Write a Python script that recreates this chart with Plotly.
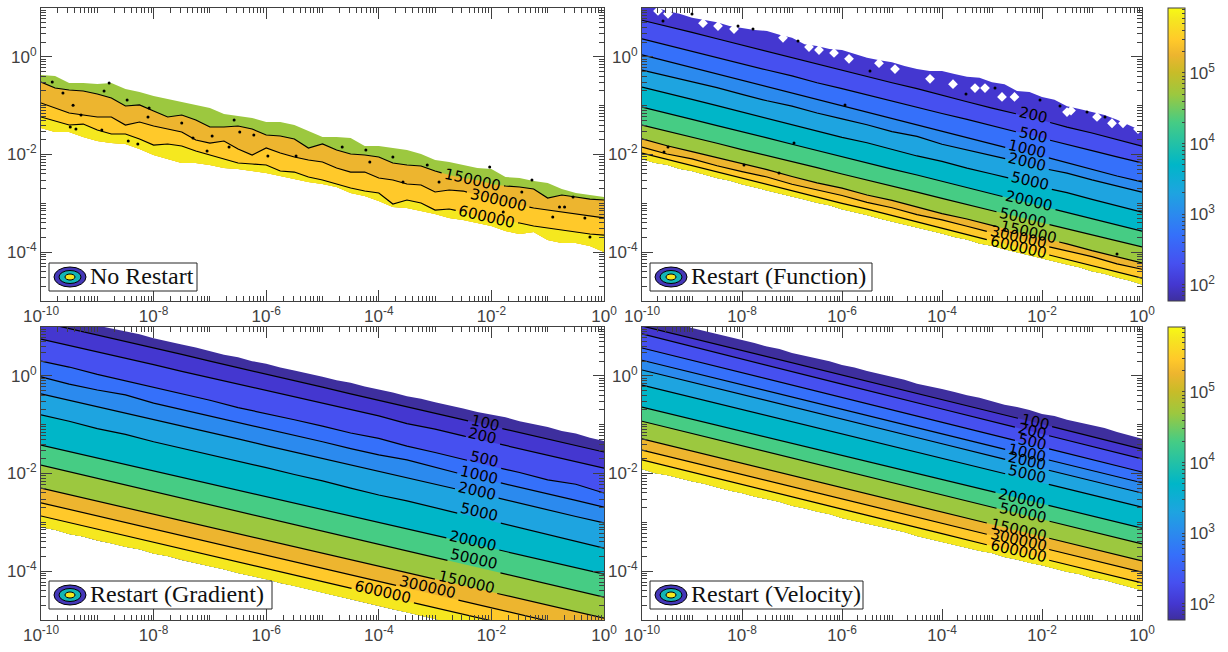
import numpy as np
import plotly.graph_objects as go

# ---- shared values -------------------------------------------------------
LEVELS = [100, 200, 500, 1000, 2000, 5000, 20000, 50000, 150000, 300000, 600000]
BAND_COLORS = ["#3E2F9E", "#4437D0", "#4650F0", "#3570FA", "#2B8AEE", "#1EA4E0", "#00B6C8",
               "#46CC84", "#9CC83F", "#EDB52F", "#FFC92A", "#F5E81F"]
CB_STOPS = [0, .055, .128, .224, .296, .369, .465, .61, .705, .78, .84, .89, .965, 1]
CB_COLORS = ["#3E2F9E", "#4437D0", "#4650F0", "#3570FA", "#2B8AEE", "#1EA4E0", "#00B6C8",
             "#46CC84", "#9CC83F", "#C8BC28", "#EDB52F", "#FFC92A", "#F5E81F", "#F8FA14"]
CB_RANGE = [1.77, 5.92]
PANEL_NAMES = ["No Restart", "Restart (Function)", "Restart (Gradient)", "Restart (Velocity)"]

# ---- No Restart: log10(y) along the x range ------------------------------
p1_top = [-.372,-.393,-.536,-.536,-.556,-.536,-.659,-.72,-.802,-.864,-.925,-.986,-1.048,-1.171,-1.212,-1.253,-1.335,-1.335,-1.396,-1.519,-1.642,-1.642,-1.662,-1.826,-1.826,-1.867,-1.908,-1.99,-2.113,-2.154,-2.215,-2.277,-2.297,-2.461,-2.481,-2.543,-2.584,-2.707,-2.789,-2.83,-2.871]
p1_150000 = [-.515,-.638,-.679,-.70,-.761,-.843,-1.007,-.986,-1.109,-1.232,-1.191,-1.294,-1.437,-1.437,-1.416,-1.478,-1.601,-1.621,-1.683,-1.867,-1.785,-1.908,-1.99,-2.01,-2.051,-2.174,-2.215,-2.236,-2.338,-2.42,-2.481,-2.522,-2.604,-2.645,-2.666,-2.707,-2.891,-2.83,-2.871,-2.912,-2.932]
p1_300000 = [-.945,-1.048,-1.15,-1.191,-1.232,-1.232,-1.396,-1.335,-1.416,-1.478,-1.539,-1.703,-1.765,-1.724,-1.888,-2.01,-1.867,-1.969,-2.051,-2.113,-2.154,-2.277,-2.359,-2.359,-2.481,-2.522,-2.604,-2.625,-2.768,-2.727,-2.748,-2.83,-2.891,-2.993,-3.034,-3.096,-3.137,-3.178,-3.219,-3.26,-3.30]
p1_600000 = [-1.232,-1.314,-1.396,-1.376,-1.498,-1.58,-1.58,-1.683,-1.806,-1.785,-1.826,-1.928,-2.01,-2.092,-2.174,-2.195,-2.215,-2.338,-2.359,-2.461,-2.522,-2.604,-2.686,-2.748,-2.789,-3.014,-2.932,-2.993,-3.137,-3.116,-3.178,-3.28,-3.383,-3.362,-3.403,-3.464,-3.505,-3.546,-3.587,-3.628,-3.649]
p1_bottom = [-1.457,-1.539,-1.539,-1.642,-1.724,-1.765,-1.785,-1.888,-2.01,-2.092,-2.174,-2.174,-2.215,-2.277,-2.297,-2.338,-2.379,-2.44,-2.502,-2.563,-2.604,-2.666,-2.789,-2.85,-2.952,-3.075,-3.096,-3.157,-3.219,-3.3,-3.342,-3.403,-3.464,-3.567,-3.628,-3.587,-3.751,-3.812,-3.812,-3.874,-3.997]
p1_label_x = [-2.33, -1.88, -2.08]
p1_label_y = [-2.52, -2.93, -3.28]
p1_spot_x = [-9.80,-8.79,-8.88,-9.61,-8.47,-9.43,-8.08,-9.29,-8.10,-7.50,-9.48,-9.38,-8.92,-6.57,-6.22,-6.47,-6.96,-7.30,-8.45,-8.28,-6.66,-7.05,-5.97,-5.47,-4.65,-4.23,-4.16,-3.75,-3.57,-3.14,-2.03,-2.93,-1.46,-1.28,-.91,-1.79,-.79,-.70,-.34,-.25,-.55]
p1_spot_y = [-.515,-.536,-.70,-.74,-.884,-.99,-1.048,-1.19,-1.232,-1.355,-1.437,-1.478,-1.498,-1.294,-1.601,-1.539,-1.621,-1.662,-1.724,-1.785,-1.846,-1.928,-2.03,-2.03,-1.846,-1.908,-2.154,-2.051,-2.563,-2.215,-2.256,-2.563,-2.768,-2.522,-3.28,-3.178,-3.075,-3.075,-3.30,-3.69,-2.87]

# ---- Restart (Function) ---------------------------------------------------
p2_top = [1.08,1.02,.94,.88,.80,.75,.71,.63,.59,.55,.53,.45,.39,.26,.22,.16,.14,.06,-.02,-.07,-.11,-.19,-.25,-.29,-.29,-.35,-.41,-.43,-.52,-.56,-.70,-.72,-.82,-.88,-1.01,-1.07,-1.13,-1.19,-1.29,-1.40,-1.52]
p2_200 = [.75,.63,.50,.37,.24,.11,-.01,-.15,-.27,-.40,-.53,-.65,-.79,-.92,-1.05,-1.17,-1.30,-1.44,-1.56,-1.69,-1.83]
p2_500 = [.37,.24,.11,-.01,-.14,-.27,-.39,-.53,-.65,-.78,-.90,-1.03,-1.16,-1.28,-1.41,-1.54,-1.67,-1.79,-1.92,-2.05,-2.17]
p2_1000 = [.04,-.09,-.23,-.36,-.48,-.62,-.74,-.87,-1.01,-1.13,-1.27,-1.39,-1.53,-1.65,-1.78,-1.92,-2.03,-2.17,-2.30,-2.44,-2.56]
p2_2000 = [-.27,-.39,-.52,-.63,-.77,-.90,-1.01,-1.15,-1.27,-1.39,-1.53,-1.63,-1.79,-1.90,-2.02,-2.14,-2.28,-2.38,-2.52,-2.65,-2.77]
p2_5000 = [-.62,-.74,-.87,-1.00,-1.13,-1.26,-1.38,-1.51,-1.65,-1.76,-1.89,-2.03,-2.14,-2.28,-2.40,-2.52,-2.67,-2.78,-2.92,-3.05,-3.18]
p2_20000 = [-1.03,-1.15,-1.28,-1.41,-1.53,-1.66,-1.79,-1.92,-2.04,-2.17,-2.30,-2.42,-2.55,-2.68,-2.81,-2.93,-3.06,-3.19,-3.31,-3.44,-3.57]
p2_50000 = [-1.40,-1.52,-1.65,-1.77,-1.90,-2.02,-2.15,-2.27,-2.40,-2.52,-2.65,-2.77,-2.90,-3.02,-3.15,-3.27,-3.40,-3.52,-3.65,-3.77,-3.89]
p2_150000 = [-1.68,-1.82,-1.94,-2.06,-2.19,-2.31,-2.45,-2.58,-2.69,-2.83,-2.94,-3.07,-3.21,-3.32,-3.45,-3.59,-3.71,-3.83,-3.97,-4.09,-4.22]
p2_300000 = [-1.85,-1.99,-2.09,-2.23,-2.35,-2.46,-2.61,-2.72,-2.84,-2.98,-3.09,-3.23,-3.34,-3.47,-3.60,-3.71,-3.86,-3.97,-4.09,-4.24,-4.35]
p2_600000 = [-1.97,-2.10,-2.23,-2.35,-2.48,-2.61,-2.74,-2.87,-3.00,-3.12,-3.25,-3.38,-3.51,-3.64,-3.77,-3.89,-4.02,-4.15,-4.28,-4.41,-4.53]
p2_bottom = [-2.09,-2.17,-2.21,-2.29,-2.34,-2.41,-2.48,-2.53,-2.61,-2.67,-2.73,-2.80,-2.86,-2.92,-2.99,-3.04,-3.12,-3.18,-3.24,-3.31,-3.37,-3.44,-3.49,-3.56,-3.62,-3.69,-3.74,-3.82,-3.87,-3.94,-4.00,-4.07,-4.12,-4.19,-4.25,-4.31,-4.39,-4.44,-4.52,-4.58,-4.66]
p2_label_x = [-2.18,-2.18,-2.3,-2.3,-2.24,-2.26,-2.38,-2.28,-2.48,-2.48]
p2_label_y = [-1.19,-1.60,-1.888,-2.154,-2.543,-2.952,-3.30,-3.587,-3.69,-3.895]
p2_hole_x = [-9.68,-9.48,-8.78,-8.48,-8.16,-7.18,-6.66,-6.46,-6.16,-5.86,-5.26,-4.94,-4.24,-3.78,-3.34,-3.14,-2.8,-2.55,-1.5,-1.42,-.9,-.6,-.38,-.08]
p2_hole_y = [.94,.88,.69,.63,.57,.39,.20,.14,.08,-.04,-.13,-.25,-.45,-.56,-.64,-.64,-.82,-.82,-1.13,-1.10,-1.23,-1.36,-1.36,-1.48]
p2_spot_x = [-9.0,-9.58,-8.08,-7.78,-6.88,-5.44,-5.94,-9.48,-9.56,-7.96,-7.26,-6.96,-3.52,-2.94,-2.04,-1.64,-1.1,-.74,-.5]
p2_spot_y = [.877,.734,.632,.57,.324,-.29,-.986,-1.847,-1.949,-2.215,-2.379,-1.765,-.761,-.638,-.884,-1.007,-1.13,-1.232,-4.038]

# ---- Restart (Gradient) ---------------------------------------------------
p3_top = [1.30,1.24,1.17,1.09,1.03,.97,.90,.85,.77,.70,.64,.58,.51,.43,.38,.30,.25,.17,.11,.05,-.02,-.09,-.14,-.22,-.28,-.34,-.42,-.47,-.54,-.60,-.67,-.74,-.80,-.85,-.93,-.99,-1.05,-1.13,-1.18,-1.27,-1.335]
p3_100 = [1.10,.97,.84,.70,.57,.44,.30,.17,.03,-.10,-.23,-.37,-.50,-.63,-.76,-.90,-1.03,-1.16,-1.30,-1.43,-1.56]
p3_200 = [.75,.62,.50,.36,.23,.09,-.04,-.17,-.30,-.43,-.56,-.69,-.82,-.98,-1.09,-1.23,-1.36,-1.49,-1.62,-1.75,-1.89]
p3_500 = [.30,.18,.03,-.10,-.23,-.37,-.50,-.65,-.77,-.90,-1.03,-1.17,-1.28,-1.44,-1.57,-1.71,-1.85,-1.98,-2.13,-2.22,-2.40]
p3_1000 = [-.02,-.17,-.29,-.39,-.56,-.69,-.82,-.95,-1.09,-1.22,-1.35,-1.49,-1.62,-1.72,-1.88,-2.02,-2.15,-2.28,-2.42,-2.55,-2.69]
p3_2000 = [-.37,-.50,-.64,-.77,-.90,-1.03,-1.16,-1.29,-1.43,-1.56,-1.69,-1.82,-1.95,-2.08,-2.22,-2.35,-2.47,-2.61,-2.74,-2.88,-3.01]
p3_5000 = [-.80,-.93,-1.08,-1.20,-1.35,-1.48,-1.61,-1.75,-1.88,-2.02,-2.15,-2.30,-2.44,-2.56,-2.70,-2.84,-2.97,-3.11,-3.25,-3.39,-3.53]
p3_20000 = [-1.42,-1.95,-2.47,-3.00,-3.53,-4.06]
p3_50000 = [-1.83,-2.37,-2.91,-3.45,-3.99,-4.53]
p3_150000 = [-2.30,-2.83,-3.36,-3.90,-4.43,-4.96]
p3_300000 = [-2.60,-3.14,-3.67,-4.21,-4.75,-5.29]
p3_600000 = [-2.87,-3.41,-3.95,-4.48,-5.02,-5.55]
p3_bottom = [-3.10,-3.15,-3.24,-3.29,-3.37,-3.43,-3.50,-3.55,-3.64,-3.69,-3.77,-3.83,-3.90,-3.96,-4.04,-4.10,-4.16,-4.24,-4.30,-4.37,-4.44,-4.51,-4.57,-4.64,-4.71,-4.78,-4.84,-4.91,-4.98,-5.05,-5.11,-5.18,-5.25,-5.31,-5.39,-5.45,-5.52,-5.58,-5.65,-5.72,-5.78]
p3_label_x = [-2.11,-2.15,-2.13,-2.22,-2.26,-2.22,-2.33,-2.31,-2.45,-3.14,-3.93]
p3_label_y = [-.966,-1.232,-1.703,-2.03,-2.36,-2.79,-3.38,-3.75,-4.22,-4.32,-4.43]

# ---- Restart (Velocity) ---------------------------------------------------
p4_top = [1.23,1.17,1.11,1.06,.98,.92,.86,.79,.73,.67,.60,.55,.47,.41,.35,.30,.22,.17,.10,.04,-.03,-.08,-.16,-.21,-.27,-.33,-.40,-.45,-.52,-.59,-.64,-.70,-.78,-.82,-.90,-.96,-1.02,-1.07,-1.15,-1.22,-1.29]
p4_100 = [1.02,.52,.01,-.49,-.99,-1.50]
p4_200 = [.86,.34,-.17,-.68,-1.19,-1.70]
p4_500 = [.57,.06,-.44,-.95,-1.46,-1.97]
p4_1000 = [.32,-.18,-.68,-1.19,-1.69,-2.19]
p4_2000 = [.12,-.38,-.89,-1.39,-1.90,-2.40]
p4_5000 = [-.19,-.69,-1.19,-1.69,-2.19,-2.69]
p4_20000 = [-.64,-1.13,-1.63,-2.12,-2.62,-3.12]
p4_50000 = [-.93,-1.43,-1.93,-2.44,-2.94,-3.44]
p4_150000 = [-1.29,-1.79,-2.29,-2.79,-3.29,-3.79]
p4_300000 = [-1.52,-2.02,-2.52,-3.02,-3.52,-4.02]
p4_600000 = [-1.72,-2.23,-2.73,-3.23,-3.74,-4.24]
p4_bottom = [-1.91,-1.99,-2.03,-2.10,-2.16,-2.21,-2.28,-2.35,-2.40,-2.47,-2.53,-2.58,-2.66,-2.71,-2.78,-2.83,-2.91,-2.96,-3.02,-3.09,-3.14,-3.20,-3.28,-3.33,-3.40,-3.45,-3.52,-3.58,-3.63,-3.71,-3.76,-3.83,-3.88,-3.94,-4.01,-4.06,-4.14,-4.18,-4.26,-4.32,-4.39]
p4_label_x = [-2.14,-2.2,-2.2,-2.3,-2.3,-2.3,-2.4,-2.38,-2.48,-2.48,-2.48]
p4_label_y = [-.946,-1.13,-1.355,-1.58,-1.744,-2.01,-2.52,-2.81,-3.16,-3.37,-3.59]

PANELS = [
    dict(levels=[150000, 300000, 600000], top=p1_top, lines=[p1_150000, p1_300000, p1_600000], bottom=p1_bottom,
         first_band=8, lx=p1_label_x, ly=p1_label_y, holes=None, spots=(p1_spot_x, p1_spot_y)),
    dict(levels=LEVELS[1:], top=p2_top, lines=[p2_200, p2_500, p2_1000, p2_2000, p2_5000, p2_20000, p2_50000, p2_150000, p2_300000, p2_600000],
         bottom=p2_bottom, first_band=1, lx=p2_label_x, ly=p2_label_y, holes=(p2_hole_x, p2_hole_y), spots=(p2_spot_x, p2_spot_y)),
    dict(levels=LEVELS, top=p3_top, lines=[p3_100, p3_200, p3_500, p3_1000, p3_2000, p3_5000, p3_20000, p3_50000, p3_150000, p3_300000, p3_600000],
         bottom=p3_bottom, first_band=0, lx=p3_label_x, ly=p3_label_y, holes=None, spots=None),
    dict(levels=LEVELS, top=p4_top, lines=[p4_100, p4_200, p4_500, p4_1000, p4_2000, p4_5000, p4_20000, p4_50000, p4_150000, p4_300000, p4_600000],
         bottom=p4_bottom, first_band=0, lx=p4_label_x, ly=p4_label_y, holes=None, spots=None),
]

# ---- layout frame (pixels of the 1228x652 page) ---------------------------
W, H = 1228, 652
BOXES = [(41, 604, 8, 301), (642, 1142, 8, 301), (41, 604, 327, 620), (642, 1142, 327, 620)]
LEGEND_BOX = [(49, 197, 263, 291), (650, 872, 263, 291), (49, 272, 581, 609), (650, 863, 581, 609)]
GREY = "#404040"
TICK_FONT = dict(family="Liberation Sans, Arial, sans-serif", size=17, color=GREY)


def xgrid(vals):
    return np.linspace(-10, 0, len(vals))


def with_gap(vals, centre, half):
    xs = xgrid(vals)
    ys = np.asarray(vals, float)
    a, b = centre - half, centre + half
    left = xs < a
    right = xs > b
    out_x = list(xs[left]) + [a, None, b] + list(xs[right])
    out_y = list(ys[left]) + [float(np.interp(a, xs, ys)), None, float(np.interp(b, xs, ys))] + list(ys[right])
    return [None if v is None else 10 ** v for v in out_x], [None if v is None else 10 ** v for v in out_y]


fig = go.Figure()
annotations, shapes = [], []
major_x = [10.0 ** k for k in range(-10, 1, 2)]
major_y = [10.0 ** k for k in (-4, -2, 0)]
minor_x = [m * 10.0 ** k for k in range(-10, 0) for m in range(2, 10)] + [10.0 ** k for k in range(-9, 0, 2)]
minor_y = [m * 10.0 ** k for k in range(-5, 1) for m in range(2, 10)] + [10.0 ** k for k in (-5, -3, -1, 1)]

for i, p in enumerate(PANELS):
    n = i + 1
    xa, ya = f"x{n}", f"y{n}"
    bounds = [p["top"]] + p["lines"] + [p["bottom"]]
    # painted from the top band downward, so that no seam shows between bands
    for j in range(len(bounds) - 1):
        up, lo = bounds[j], p["bottom"]
        xs = list(xgrid(up)) + list(xgrid(lo))[::-1]
        ys = list(up) + list(lo)[::-1]
        fig.add_trace(go.Scatter(x=[10 ** v for v in xs], y=[10 ** v for v in ys], mode="lines", fill="toself",
                                 fillcolor=BAND_COLORS[p["first_band"] + j], line=dict(width=0), hoverinfo="skip",
                                 xaxis=xa, yaxis=ya, showlegend=False))
    scale = (BOXES[i][1] - BOXES[i][0]) / 10.0
    if p["holes"]:
        fig.add_trace(go.Scatter(x=[10 ** v for v in p["holes"][0]], y=[10 ** v for v in p["holes"][1]], mode="markers",
                                 marker=dict(symbol="diamond", size=7.5, color="white"), hoverinfo="skip",
                                 xaxis=xa, yaxis=ya, showlegend=False))
    for lev, vals, lx, ly in zip(p["levels"], p["lines"], p["lx"], p["ly"]):
        text = str(lev)
        half = (4.7 * len(text) + 3) / scale
        gx, gy = with_gap(vals, lx, half)
        fig.add_trace(go.Scatter(x=gx, y=gy, mode="lines", line=dict(color="black", width=1.2), hoverinfo="skip",
                                 connectgaps=False, xaxis=xa, yaxis=ya, showlegend=False))
        annotations.append(dict(x=lx, y=ly, xref=xa, yref=ya, text=text, showarrow=False, textangle=13,
                                font=dict(family="DejaVu Sans", size=15, color="black")))
    if p["spots"]:
        fig.add_trace(go.Scatter(x=[10 ** v for v in p["spots"][0]], y=[10 ** v for v in p["spots"][1]], mode="markers",
                                 marker=dict(symbol="circle", size=3, color="black"),
                                 hoverinfo="skip", xaxis=xa, yaxis=ya, showlegend=False))

    x0, x1, y0, y1 = BOXES[i]
    common = dict(type="log", showline=True, linecolor=GREY, linewidth=1, mirror="allticks", ticks="inside",
                  ticklen=11, tickwidth=1, tickcolor=GREY, showgrid=False, zeroline=False, tickfont=TICK_FONT,
                  tickmode="array")
    fig.update_layout(**{
        f"xaxis{n}": dict(common, domain=[x0 / W, x1 / W], range=[-10, 0], anchor=ya,
                          tickvals=major_x, ticktext=[f"10<sup>{k}</sup>" for k in range(-10, 1, 2)],
                          minor=dict(tickmode="array", tickvals=minor_x, ticks="inside", ticklen=5, tickcolor=GREY, tickwidth=1, showgrid=False)),
        f"yaxis{n}": dict(common, domain=[1 - y1 / H, 1 - y0 / H], range=[-5, 1], anchor=xa,
                          tickvals=major_y, ticktext=[f"10<sup>{k}</sup>" for k in (-4, -2, 0)],
                          minor=dict(tickmode="array", tickvals=minor_y, ticks="inside", ticklen=5, tickcolor=GREY, tickwidth=1, showgrid=False)),
    })

    # legend box with the contour icon
    lx0, lx1, ly0, ly1 = LEGEND_BOX[i]
    shapes.append(dict(type="rect", xref="paper", yref="paper", x0=lx0 / W, x1=lx1 / W, y0=1 - ly1 / H, y1=1 - ly0 / H,
                       fillcolor="white", line=dict(color="#262626", width=1)))
    cx, cy = lx0 + 21, (ly0 + ly1) / 2
    for rx, ry, col in [(16, 10, "#4437B8"), (11, 6.5, "#12B5B5"), (5, 3, "#F5E81F")]:
        shapes.append(dict(type="circle", xref="paper", yref="paper", x0=(cx - rx) / W, x1=(cx + rx) / W,
                           y0=1 - (cy + ry) / H, y1=1 - (cy - ry) / H, fillcolor=col, line=dict(color="black", width=1)))
    annotations.append(dict(x=(lx0 + 39) / W, y=1 - (cy - 1) / H, xref="paper", yref="paper", text=PANEL_NAMES[i], showarrow=False,
                            xanchor="left", yanchor="middle", font=dict(family="Liberation Serif", size=24, color="#111111")))

# ---- colour bars -----------------------------------------------------------
cb_ticks = [float(np.log10(m * 10.0 ** k)) for k in range(1, 6) for m in range(1, 10)]
cb_ticks = [t for t in cb_ticks if CB_RANGE[0] <= t <= CB_RANGE[1]]
cb_text = [f"10<sup>{int(round(t))}</sup>" if abs(t - round(t)) < 1e-9 else "" for t in cb_ticks]
colorscale = [[s, c] for s, c in zip(CB_STOPS, CB_COLORS)]
for k, (y_top) in enumerate((8, 327)):
    fig.add_trace(go.Scatter(
        x=[None] * len(LEVELS), y=[None] * len(LEVELS), mode="markers", xaxis="x1", yaxis="y1", showlegend=False,
        marker=dict(color=np.log10(LEVELS), colorscale=colorscale, cmin=CB_RANGE[0], cmax=CB_RANGE[1], showscale=True,
                    colorbar=dict(x=1168 / W, xanchor="left", xref="paper", y=1 - y_top / H, yanchor="top", yref="paper",
                                  len=293, lenmode="pixels", thickness=17, thicknessmode="pixels", xpad=0, ypad=0,
                                  outlinecolor=GREY, outlinewidth=1, ticks="inside", ticklen=3, tickcolor=GREY,
                                  tickmode="array", tickvals=cb_ticks, ticktext=cb_text, tickfont=TICK_FONT))))

fig.update_layout(width=W, height=H, margin=dict(l=0, r=0, t=0, b=0, autoexpand=False), paper_bgcolor="white", plot_bgcolor="white",
                  showlegend=False, annotations=annotations, shapes=shapes, hovermode=False)
fig.write_html("out.html", config=dict(displayModeBar=False),
               post_script="document.body.style.margin='0';document.body.style.overflow='hidden';")
